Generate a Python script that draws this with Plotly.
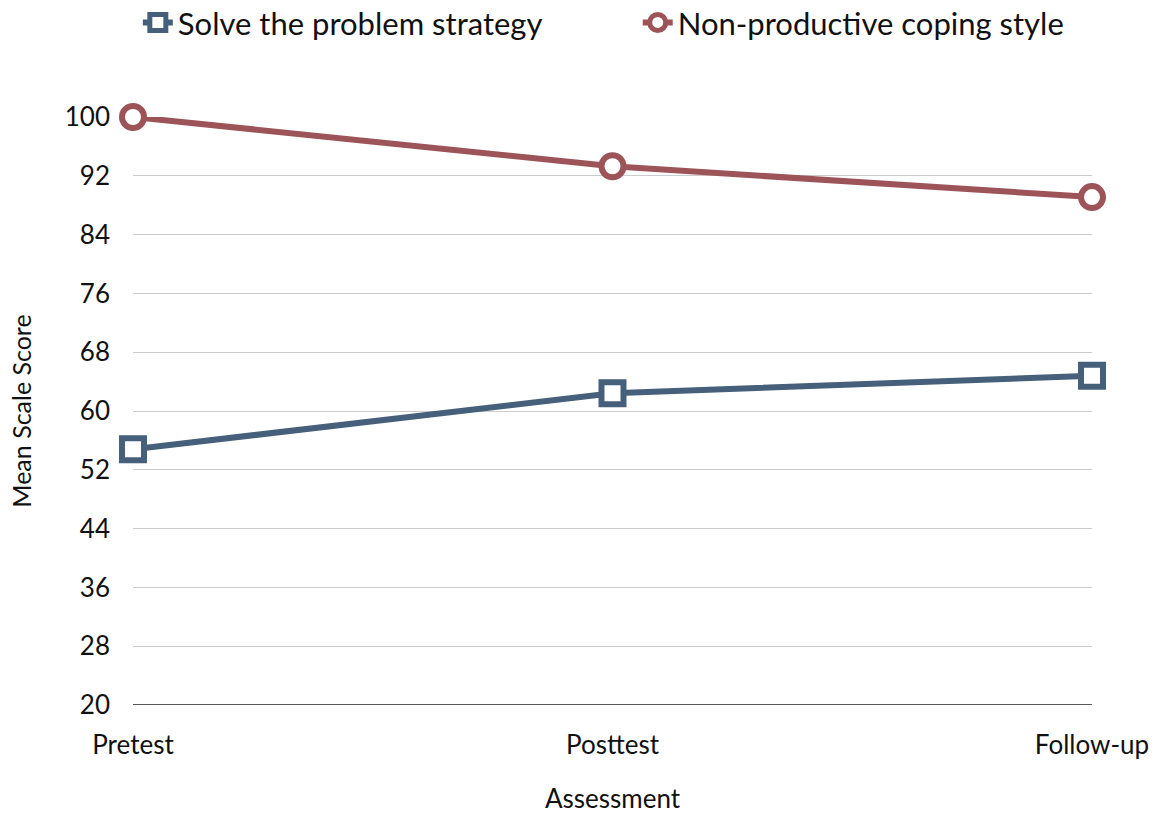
import plotly.graph_objects as go

# Assessment points and mean scale scores
assessments = ["Pretest", "Posttest", "Follow-up"]
solve_problem = [54.8, 62.4, 64.8]
non_productive = [100.0, 93.3, 89.1]
y_ticks = [20, 28, 36, 44, 52, 60, 68, 76, 84, 92, 100]

BLUE = "#46607c"
RED = "#9d5459"
FONT = "Lato, 'Open Sans', sans-serif"

x_pos = list(range(len(assessments)))

fig = go.Figure()
fig.add_trace(go.Scatter(
    x=x_pos, y=solve_problem, name="Solve the problem strategy",
    mode="lines+markers",
    line=dict(color=BLUE, width=6),
    marker=dict(symbol="square", size=22, color="white",
                line=dict(color=BLUE, width=6)),
    cliponaxis=False, legend="legend",
))
fig.add_trace(go.Scatter(
    x=x_pos, y=non_productive, name="Non-productive coping style",
    mode="lines+markers",
    line=dict(color=RED, width=6),
    marker=dict(symbol="circle", size=22, color="white",
                line=dict(color=RED, width=6)),
    cliponaxis=False, legend="legend2",
))

legend_style = dict(orientation="h", xref="container", yref="container",
                    xanchor="left", y=0.972, yanchor="middle",
                    font=dict(size=31), itemwidth=30, bgcolor="rgba(0,0,0,0)")

fig.update_layout(
    width=1168, height=815,
    margin=dict(l=133, r=76, t=117, b=110, autoexpand=False),
    paper_bgcolor="white", plot_bgcolor="white",
    font=dict(family=FONT, size=26, color="#111111"),
    showlegend=True,
    legend=dict(x=0.118, **legend_style),
    legend2=dict(x=0.546, **legend_style),
    xaxis=dict(
        range=[0, 2], tickmode="array", tickvals=x_pos, ticktext=assessments,
        showgrid=False, zeroline=False, showline=False, ticks="",
        ticklabelstandoff=22, automargin=False,
        tickfont=dict(size=26),
        title=dict(text="Assessment", font=dict(size=26), standoff=30),
    ),
    yaxis=dict(
        range=[20, 100], tickmode="array", tickvals=y_ticks,
        showgrid=True, gridcolor="#cccccc", gridwidth=1,
        zeroline=False, showline=False, ticks="", ticklabelstandoff=22,
        automargin=False,
        tickfont=dict(size=26),
        title=dict(text="Mean Scale Score", font=dict(size=25), standoff=26),
    ),
)

# Dark baseline along the bottom of the plot
fig.add_shape(type="line", xref="paper", yref="y", x0=0, x1=1, y0=20, y1=20,
              line=dict(color="#222222", width=1.5), layer="below")

fig.write_html("out.html")
